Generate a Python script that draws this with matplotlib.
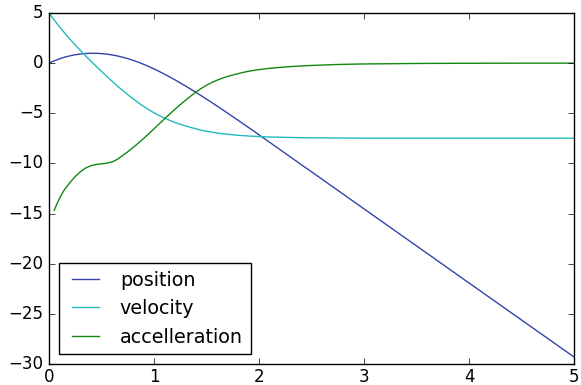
import matplotlib
matplotlib.use("Agg")
import matplotlib.pyplot as plt

plt.style.use("classic")

# sample times: 0.05 steps while things change, coarser once steady
t = [0.0, 0.05, 0.1, 0.15, 0.2, 0.25, 0.3, 0.35, 0.4, 0.45,
     0.5, 0.55, 0.6, 0.65, 0.7, 0.75, 0.8, 0.85, 0.9, 0.95,
     1.0, 1.05, 1.1, 1.15, 1.2, 1.25, 1.3, 1.35, 1.4, 1.45,
     1.5, 1.55, 1.6, 1.65, 1.7, 1.75, 1.8, 1.85, 1.9, 1.95,
     2.0, 2.1, 2.2, 2.3, 2.4, 2.5, 2.6, 2.7, 2.8, 2.9,
     3.0, 3.5, 4.0, 4.5, 5.0]

position = [0.0, 0.23, 0.43, 0.6, 0.73, 0.836, 0.913, 0.962, 0.984, 0.981,
            0.953, 0.9, 0.822, 0.721, 0.597, 0.451, 0.284, 0.097, -0.109, -0.333,
            -0.573, -0.828, -1.096, -1.376, -1.667, -1.967, -2.276, -2.593, -2.917, -3.248,
            -3.585, -3.927, -4.273, -4.623, -4.976, -5.332, -5.69, -6.051, -6.413, -6.776,
            -7.141, -7.88, -8.62, -9.36, -10.1, -10.83, -11.57, -12.31, -13.05, -13.79,
            -14.53, -18.22, -21.92, -25.61, -29.3]

velocity = [5.0, 4.3, 3.63, 3.0, 2.39, 1.81, 1.25, 0.71, 0.19, -0.32,
            -0.82, -1.31, -1.79, -2.26, -2.71, -3.14, -3.55, -3.94, -4.3, -4.64,
            -4.95, -5.23, -5.48, -5.7, -5.92, -6.1, -6.26, -6.41, -6.55, -6.68,
            -6.79, -6.88, -6.96, -7.03, -7.09, -7.14, -7.19, -7.23, -7.26, -7.29,
            -7.32, -7.36, -7.39, -7.41, -7.43, -7.44, -7.45, -7.46, -7.47, -7.47,
            -7.48, -7.48, -7.48, -7.48, -7.48]

# acceleration has no value at t = 0; extra samples where it bends hard
t_acc = [0.05, 0.075, 0.1, 0.125, 0.15] + t[4:]
accel = [-14.66, -14.05, -13.5, -13.0, -12.58,
         -11.9, -11.3, -10.82, -10.45, -10.22, -10.1,
         -10.04, -9.97, -9.85, -9.6, -9.22, -8.84, -8.42, -7.98, -7.52, -7.04,
         -6.55, -6.05, -5.55, -5.07, -4.6, -4.14, -3.7, -3.28, -2.88, -2.52,
         -2.2, -1.93, -1.7, -1.5, -1.33, -1.18, -1.05, -0.92, -0.81, -0.72,
         -0.64, -0.52, -0.42, -0.34, -0.28, -0.23, -0.19, -0.15, -0.12, -0.1,
         -0.08, -0.03, -0.01, 0.0, 0.0]

fig = plt.figure(figsize=(5.81, 3.85), dpi=100, facecolor="white")
ax = fig.add_axes([0.0843, 0.0545, 0.9037, 0.9117])

ax.plot(t, position, color="#3344aa", lw=1.0, label="position")
ax.plot(t, velocity, color="#22bbbb", lw=1.0, label="velocity")
ax.plot(t_acc, accel, color="#118811", lw=1.0, label="accelleration")

ax.set_xlim(0, 5)
ax.set_ylim(-30, 5)
ax.set_xticks(range(0, 6))
ax.set_yticks(range(-30, 6, 5))
ax.tick_params(axis="x", pad=3)

ax.legend(loc="lower left", fontsize=13.8)

fig.savefig("out.png", dpi=100, facecolor="white")
